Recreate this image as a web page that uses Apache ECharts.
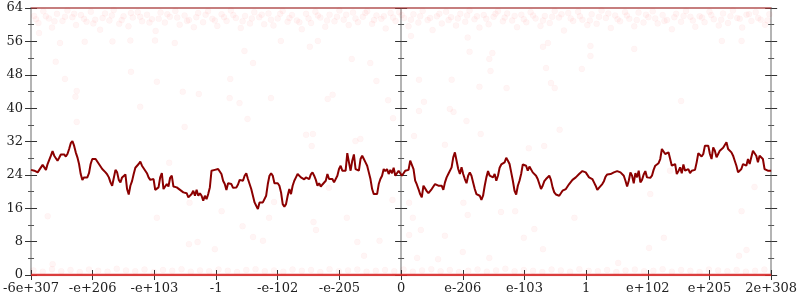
<!DOCTYPE html>
<html>
<head>
<meta charset="utf-8">
<script src="https://cdn.jsdelivr.net/npm/echarts@6/dist/echarts.min.js"></script>
<style>html,body{margin:0;padding:0;background:#fff}#c{width:800px;height:300px}</style>
</head>
<body>
<div id="c"></div>
<script>
// x tick labels (positions along the ordered float line, 12 equal steps)
const xTickLabels = ['-6e+307','-e+206','-e+103','-1','-e-102','-e-205','0','e-206','e-103','1','e+102','e+205','2e+308'];
const xMin = -600, xMax = 600, xStep = 100;
const yMin = 0, yMax = 64, yStep = 8;

// dark red line: evenly sampled across the x range
const lineValues = [
25.2,25.0,25.0,24.9,24.6,25.2,25.8,26.4,26.0,25.2,26.6,27.6,28.6,29.7,28.6,28.4,27.4,28.1,28.9,29.0,
28.9,28.4,29.0,30.2,31.6,32.1,31.0,29.4,28.2,26.6,24.2,22.8,23.4,23.3,23.4,24.4,26.6,27.8,27.9,27.8,
27.6,26.6,26.8,25.4,25.8,24.6,24.1,23.4,22.2,21.4,21.4,25.2,24.6,22.8,22.2,23.4,23.0,24.1,20.6,19.3,
21.4,22.5,24.2,25.7,25.8,26.6,27.2,26.2,26.6,25.0,24.4,23.4,22.8,22.8,23.0,20.4,20.4,21.0,23.4,24.4,
20.6,20.9,21.8,21.2,23.3,23.8,21.2,20.9,21.0,21.4,20.4,20.1,19.8,19.4,19.6,18.6,18.2,19.4,20.2,19.0,
20.4,19.0,19.6,19.0,17.8,19.0,18.2,19.4,21.0,
25.0,25.1,25.2,25.3,25.4,25.0,24.2,22.6,21.8,20.4,22.0,22.2,21.8,20.9,20.6,21.0,21.7,22.8,23.0,22.6,
23.8,24.4,23.0,21.8,20.6,19.0,17.4,16.6,15.8,17.4,17.7,17.4,17.8,19.0,21.8,23.8,24.4,23.8,22.0,21.8,
22.0,21.4,19.8,17.0,16.4,17.0,19.0,20.6,19.4,21.4,22.6,23.4,24.2,24.0,23.4,23.0,22.9,23.4,23.6,23.0,
24.1,24.6,23.8,22.8,21.4,22.0,21.2,21.7,21.4,22.6,24.2,23.0,22.8,23.0,22.2,22.2,23.8,25.4,26.2,25.0,
25.4,25.0,29.2,27.0,25.0,27.4,28.9,25.4,25.8,25.0,27.8,28.6,27.8,27.0,26.2,24.6,23.0,20.6,19.4,19.0,
19.4,21.8,23.0,23.8,25.4,24.9,25.4,24.2,25.2,24.4,25.7,
23.8,24.2,25.0,24.6,23.8,24.2,25.0,25.4,25.2,27.4,27.0,25.4,22.6,21.7,20.6,19.4,18.6,21.4,21.4,20.1,
19.6,19.8,20.6,21.0,21.8,21.6,21.4,21.7,21.4,20.4,22.2,23.4,24.2,24.6,25.8,28.2,29.4,27.4,25.4,24.2,
25.8,24.2,23.0,22.0,23.8,24.6,23.8,22.2,20.6,19.4,19.8,19.0,18.0,19.0,21.4,23.4,24.9,23.8,23.8,23.4,
24.2,22.6,23.8,25.7,26.5,26.6,27.0,28.1,27.4,26.6,24.6,22.6,20.2,19.3,21.4,22.6,24.2,26.5,26.6,26.2,
25.0,26.0,26.2,24.6,25.0,23.8,23.0,22.6,20.6,21.4,22.5,23.0,22.6,23.8,22.8,21.0,19.8,19.3,19.0,19.0,
19.4,20.2,19.8,20.6,20.9,21.8,22.2,22.8,23.0,23.4,23.6,24.2,24.1,24.9,
24.9,24.6,24.4,23.4,23.6,23.0,22.2,21.4,20.4,20.9,21.2,21.8,22.5,23.6,24.1,24.0,24.2,24.4,24.6,25.0,
24.9,25.0,24.6,25.0,23.8,22.6,21.2,22.6,24.6,23.8,22.0,24.4,23.4,25.0,22.2,22.8,24.1,24.9,23.4,23.0,
23.3,23.8,25.2,26.2,26.6,26.8,27.8,30.2,29.8,29.0,28.6,29.4,27.8,26.2,26.0,26.6,24.2,24.9,25.8,24.4,
26.5,25.0,24.6,25.4,24.4,25.0,25.2,25.2,27.0,29.2,29.0,28.4,29.0,31.0,31.4,31.0,29.0,27.8,30.6,29.8,
28.2,29.0,29.8,30.2,30.5,30.8,31.8,30.2,30.6,29.4,28.6,27.4,26.2,24.6,24.6,25.4,26.6,26.8,26.2,27.8,
26.6,28.2,29.8,29.7,28.6,27.0,28.6,28.6,27.8,25.4,25.0,25.0,25.0,25.0
];

// faint red points: dense band near the top
const topBand = [
[-595,62.1],[-588,60.4],[-580,63.2],[-571,61.5],[-566,59.3],[-558,62.6],[-549,60.9],[-541,63.4],[-533,61.8],[-527,59.9],
[-519,62.3],[-510,60.7],[-503,63.1],[-496,61.2],[-488,58.8],[-480,62.7],[-473,61.0],[-466,63.5],[-457,60.2],[-450,62.0],
[-442,59.6],[-435,61.7],[-427,63.0],[-420,60.8],[-412,62.4],[-404,61.3],[-398,58.5],[-390,62.9],[-383,60.5],[-375,61.9],
[-366,63.3],[-359,60.0],[-351,62.2],[-344,61.1],[-336,59.4],[-329,62.8],[-321,60.6],[-313,63.2],[-306,61.4],[-298,59.7],
[-291,62.5],[-283,60.9],[-276,63.4],[-268,61.6],[-260,59.2],[-253,62.1],[-245,60.3],[-238,63.0],[-230,61.8],[-222,60.1],
[-215,62.7],[-207,59.8],[-200,61.5],[-192,63.3],[-184,60.7],[-177,62.3],[-169,61.0],[-161,58.9],[-154,62.6],[-146,60.4],
[-139,63.1],[-131,61.7],[-123,59.5],[-116,62.4],[-108,60.8],[-100,63.4],[-93,61.2],[-85,59.9],[-78,62.9],[-70,60.6],
[-62,61.9],[-55,63.2],[-47,60.2],[-40,62.2],[-32,61.4],[-25,59.1],[-17,62.8],[-9,60.9],[-3,63.0],
[5,61.6],[12,59.6],[20,62.5],[28,60.5],[35,63.3],[43,61.1],[51,58.7],[58,62.0],[66,60.3],[73,63.1],
[81,61.8],[89,59.8],[96,62.6],[104,60.7],[111,63.4],[119,61.3],[127,59.3],[134,62.3],[142,60.1],[150,61.9],
[157,63.2],[165,60.8],[172,62.7],[180,61.0],[188,59.4],[195,62.4],[203,60.6],[210,63.0],[218,61.5],[226,59.7],
[233,62.1],[241,60.4],[249,63.3],[256,61.7],[264,58.6],[271,62.8],[279,60.9],[287,63.1],[294,61.2],[302,59.9],
[309,62.5],[317,60.2],[325,63.4],[332,61.6],[340,59.2],[347,62.2],[355,60.8],[363,63.0],[370,61.4],[378,59.6],
[385,62.9],[393,60.5],[401,61.8],[408,63.2],[416,60.3],[424,62.3],[431,61.1],[439,58.9],[446,62.6],[454,60.7],
[462,63.3],[469,61.9],[477,59.5],[484,62.0],[492,60.6],[500,63.1],[507,61.3],[515,59.8],[522,62.7],[530,60.4],
[538,63.4],[545,61.6],[553,59.3],[560,62.4],[568,60.9],[575,63.0],[583,61.2],[590,60.0],[597,62.5],
[-592,61.3],[-576,62.0],[-562,60.8],[-545,61.9],[-530,62.6],[-514,61.4],[-499,60.3],[-484,61.6],[-469,62.2],[-453,61.1],
[-438,62.8],[-423,61.9],[-408,60.5],[-393,61.4],[-379,62.5],[-363,61.7],[-347,60.9],[-332,61.8],[-317,62.4],[-302,61.0],
[-287,61.8],[-272,62.3],[-257,60.8],[-242,61.5],[-226,62.4],[-211,61.2],[-196,62.6],[-181,61.6],[-165,60.6],[-150,61.5],
[-135,62.2],[-120,61.0],[-104,61.9],[-89,62.4],[-74,61.5],[-58,62.8],[-44,61.1],[-28,62.0],[-13,61.7],[1,62.3],
[16,61.2],[31,62.0],[47,61.6],[62,62.6],[77,61.1],[92,61.5],[107,62.2],[123,62.0],[138,61.4],[153,62.6],
[168,61.7],[184,62.1],[199,61.3],[214,62.2],[230,61.0],[245,61.9],[260,62.5],[275,61.5],[290,62.0],[306,61.0],
[321,61.9],[336,62.7],[351,61.3],[366,62.2],[382,61.1],[397,62.4],[412,61.5],[427,60.9],[443,61.8],[458,62.1],
[473,61.0],[488,61.7],[503,62.3],[519,61.2],[534,62.0],[549,61.4],[564,62.5],[579,61.6],[594,61.0]
];

// faint red points: band just above zero
const bottomBand = [
[-596,1.1],[-581,0.8],[-566,1.4],[-551,0.9],[-536,1.2],[-521,0.7],[-506,1.3],[-491,1.0],[-476,0.8],[-461,1.5],
[-446,1.1],[-431,0.9],[-416,1.3],[-401,0.7],[-386,1.2],[-371,1.0],[-356,1.4],[-341,0.8],[-326,1.1],[-311,0.9],
[-296,1.3],[-281,1.0],[-266,0.7],[-251,1.2],[-236,1.4],[-221,0.9],[-206,1.1],[-191,0.8],[-176,1.3],[-161,1.0],
[-146,1.2],[-131,0.7],[-116,1.4],[-101,0.9],[-86,1.1],[-71,1.3],[-56,0.8],[-41,1.0],[-26,1.2],[-11,0.9],
[4,1.3],[19,0.8],[34,1.1],[49,1.4],[64,0.9],[79,1.2],[94,0.7],[109,1.0],[124,1.3],[139,0.8],
[154,1.1],[169,1.5],[184,0.9],[199,1.2],[214,1.0],[229,0.7],[244,1.3],[259,1.1],[274,0.8],[289,1.4],
[304,1.0],[319,0.9],[334,1.2],[349,0.7],[364,1.1],[379,1.3],[394,0.9],[409,1.0],[424,1.4],[439,0.8],
[454,1.2],[469,1.0],[484,0.7],[499,1.3],[514,1.1],[529,0.9],[544,1.2],[559,0.8],[574,1.0],[589,1.3]
];

// sparse faint red points in the middle
const outliers = [
[-560,51.1],[-545,47],[-526,44.1],[-528,42.7],[-423,40.3],[-526,36.7],[-351,35.5],[-438,48.7],[-396,46.3],[-354,43.9],
[-328,43.4],[-553,55.6],[-513,55.9],[-468,56],[-439,56.2],[-367,55.6],[-399,56.2],[-587,58],[-254,53.7],[-240,50.8],
[-195,56.1],[-148,54.7],[-135,56.1],[-80,51.8],[-50,50.8],[-277,47],[-40,46.5],[-278,42.4],[-262,41.2],[-211,42.4],
[-119,42.2],[-111,43.2],[-21,41.9],[-249,37.4],[-13,37.6],[-154,33.6],[-143,33.8],[-145,30.9],[-74,32.1],[-66,32.6],
[16,57.3],[108,56.9],[111,53.5],[148,53.2],[143,51.8],[145,48.9],[230,54.7],[238,55.6],[235,49.6],[307,54.9],
[307,52.5],[293,49.4],[29,46.8],[82,46.8],[127,45.1],[171,44.8],[243,46],[249,44.8],[37,41.5],[29,39.3],
[79,39.8],[85,39.1],[106,36.9],[129,33.8],[21,33.3],[257,34.8],[71,31.2],[207,30.4],[232,30.9],[378,54.2],
[454,41.7],[520,56.1],[552,56.1],
[-573,14.1],[-565,2.6],[-376,26.9],[-396,13.7],[-343,17.3],[-330,7.9],[-344,7.4],[-291,15.3],[-214,13.7],[-257,11.7],
[-240,9.1],[-224,8.2],[-302,6.2],[-206,17.5],[-142,12.7],[-138,10.8],[-88,13.7],[-71,7.9],[-60,4.6],[-35,8.2],
[-14,18],[-117,20.9],[13,17.3],[19,13.7],[32,10.8],[13,9.6],[26,4.1],[60,3.8],[71,9.4],[108,14.4],
[101,17.3],[100,5.5],[143,4.1],[162,15.1],[185,15.3],[199,8.9],[216,11],[230,6.2],[281,13.7],[404,19.4],
[426,8.9],[402,6.5],[352,2.9],[436,25],[552,15.3],[560,6],[548,4.6],[573,21.1]
];

// saturated rows at the floor and ceiling
const floorRow = [[-600,0],[600,0]];
const ceilRow = [[-600,64],[600,64]];

const font = 'DejaVu Serif';
const axisGray = '#b4b4b4';
const tickColor = '#333';

function yAx(position, onZero, inside, labels, line) {
  return {
    type: 'value', position: position, min: yMin, max: yMax, interval: yStep,
    axisLine: { show: line, onZero: onZero, lineStyle: { color: axisGray, width: 2 } },
    axisTick: { show: true, inside: inside, length: 6, lineStyle: { color: tickColor, width: 1 } },
    minorTick: { show: true, splitNumber: 2, length: 3, lineStyle: { color: '#555', width: 1 } },
    axisLabel: { show: labels, color: '#222', fontFamily: font, fontSize: 13, margin: 8 },
    splitLine: { show: false }
  };
}
function xAx(position, inside, labels, line, ticks) {
  return {
    type: 'value', position: position, min: xMin, max: xMax, interval: xStep,
    axisLine: { show: line, onZero: false, lineStyle: { color: axisGray, width: 2 } },
    axisTick: { show: ticks, inside: inside, length: 5, lineStyle: { color: tickColor, width: 1 } },
    axisLabel: { show: labels, color: '#222', fontFamily: font, fontSize: 13, margin: 7,
      formatter: v => xTickLabels[Math.round((v - xMin) / xStep)] },
    splitLine: { show: false }
  };
}

const n = lineValues.length;
const lineData = lineValues.map((v, i) => [xMin + i * (xMax - xMin) / (n - 1), v]);

const dotStyle = { color: 'rgba(255,30,30,0.055)', borderColor: 'rgba(255,0,0,0.05)', borderWidth: 0.6 };

const chart = echarts.init(document.getElementById('c'), null, { renderer: 'canvas' });
chart.setOption({
  animation: false,
  backgroundColor: '#fff',
  grid: { left: 28, right: 26, top: 8, bottom: 25, containLabel: false },
  xAxis: [
    xAx('bottom', false, true, true, true),
    xAx('bottom', true, false, false, true),
    xAx('top', false, false, true, false)
  ],
  yAxis: [
    yAx('left', false, false, true, true),
    yAx('left', false, true, false, false),
    yAx('left', true, false, false, true),
    yAx('left', true, true, false, false),
    yAx('right', false, false, false, true),
    yAx('right', false, true, false, false)
  ],
  series: [
    { type: 'scatter', data: topBand, symbol: 'circle', symbolSize: 6, itemStyle: dotStyle, z: 2 },
    { type: 'scatter', data: bottomBand, symbol: 'circle', symbolSize: 6, itemStyle: dotStyle, z: 2 },
    { type: 'scatter', data: outliers, symbol: 'circle', symbolSize: 6, itemStyle: dotStyle, z: 2 },
    { type: 'line', data: floorRow, symbol: 'none', lineStyle: { color: 'rgba(225,40,40,0.85)', width: 2.5 }, z: 3 },
    { type: 'line', data: ceilRow, symbol: 'none', lineStyle: { color: 'rgba(220,60,60,0.45)', width: 2 }, z: 3 },
    { type: 'line', data: lineData, symbol: 'none', lineStyle: { color: '#8b0000', width: 2 }, z: 5 }
  ]
});
</script>
</body>
</html>
